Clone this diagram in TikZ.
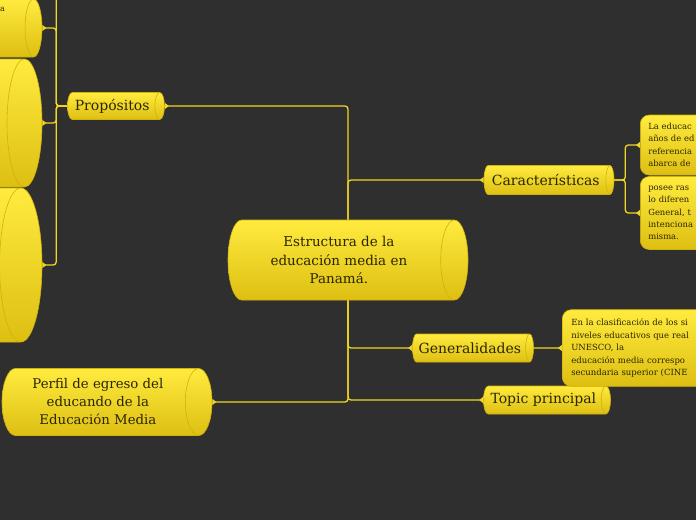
\documentclass[tikz,border=0pt]{standalone}
\usepackage{fontspec}
\setmainfont{DejaVu Serif}
\usetikzlibrary{shapes.geometric,arrows.meta}

\definecolor{bgdark}{HTML}{2F2F2F}
\definecolor{mapline}{HTML}{F2D623}
\definecolor{nodetop}{HTML}{FFEB3E}
\definecolor{nodebot}{HTML}{DDBF12}
\definecolor{nodeedge}{HTML}{D2B10A}
\definecolor{nodetext}{HTML}{2B2500}

\tikzset{
  topic/.style={cylinder, shape aspect=0.53, draw=nodeedge, line width=0.6pt,
    top color=nodetop, bottom color=nodebot, text=nodetext, align=center,
    inner sep=2pt, anchor=shape center},
  subtopic/.style={topic, font=\fontsize{14}{16}\selectfont},
  note/.style={rectangle, rounded corners=9pt, draw=nodeedge, line width=0.6pt,
    top color=nodetop, bottom color=nodebot, text=nodetext, align=left,
    anchor=west, inner sep=8pt, font=\fontsize{8.4}{12.3}\selectfont},
  link/.style={draw=mapline, line width=1.3pt, rounded corners=3pt,
    -{Triangle[reversed,length=4pt,width=6pt]}},
}

\begin{document}
\begin{tikzpicture}[x=1pt,y=-1pt]
\useasboundingbox (0,0) rectangle (696,520);
\fill[bgdark] (0,0) rectangle (696,520);
\clip (0,0) rectangle (696,520);
% main topic
\node[topic, minimum height=240pt, minimum width=80pt,
  font=\fontsize{13.5}{18.5}\selectfont] (central) at (348,260)
  {Estructura de la\\educación media en\\Panamá.};
% branches
\node[subtopic, minimum height=97pt, minimum width=27pt] (prop) at (116,106) {Propósitos};
\node[subtopic, minimum height=130pt, minimum width=29pt] (car) at (549,180) {Características};
\node[subtopic, minimum height=121pt, minimum width=28pt] (gen) at (473,348) {Generalidades};
\node[subtopic, minimum height=127pt, minimum width=28pt] (topicp) at (547,400) {Topic principal};
\node[topic, minimum height=210pt, minimum width=67pt,
  font=\fontsize{13.3}{18}\selectfont] (perfil) at (107,402)
  {Perfil de egreso del\\educando de la\\Educación Media};
% children of Propositos (cut at the left edge)
\node[topic, minimum height=160pt, minimum width=58pt,
  text height=14pt, text depth=14pt] (left1) at (-38,28) {};
\node[topic, minimum height=160pt, minimum width=128pt,
  text height=31pt, text depth=31pt] (left2) at (-38,123) {};
\node[topic, minimum height=160pt, minimum width=154pt,
  text height=38pt, text depth=38pt] (left3) at (-38,265) {};
\node[text=nodetext, anchor=west, inner sep=0pt,
  font=\fontsize{8}{10}\selectfont] (leftatxt) at (0,9) {a};
\coordinate (offtop) at (57,-5);
\coordinate (trunktop) at (central.shape center |- central.north);
\coordinate (trunkbot) at (central.shape center |- central.south);
% notes (cut at the right edge)
\node[note, minimum height=60pt, text width=140pt] (note1) at (640,145)
  {La educac\\años de ed\\referencia\\abarca de};
\node[note, minimum height=73pt, text width=140pt] (note2) at (640,213)
  {posee ras\\lo diferen\\General, t\\intenciona\\misma.};
\node[note, minimum height=75pt, text width=150pt, inner sep=9pt,
  font=\fontsize{8.5}{12.5}\selectfont] (note3) at (562,348)
  {En la clasificación de los si\\niveles educativos que real\\UNESCO, la\\educación media correspo\\secundaria superior (CINE};
% connectors
\draw[link] (trunktop) |- (prop.east);
\draw[link] (trunktop) |- (car.west);
\draw[link] (trunkbot) |- (gen.west);
\draw[link] (trunkbot) |- (topicp.west);
\draw[link] (trunkbot) |- (perfil.east);
\draw[link, -] (prop.west) -- ++(-11,0) |- (offtop);
\draw[link] (prop.west) -- ++(-11,0) |- (left1.east);
\draw[link] (prop.west) -- ++(-11,0) |- (left2.east);
\draw[link] (prop.west) -- ++(-11,0) |- (left3.east);
\draw[link] (car.east) -- ++(11,0) |- (note1.west);
\draw[link] (car.east) -- ++(11,0) |- (note2.west);
\draw[link] (gen.east) -- (note3.west);
\end{tikzpicture}
\end{document}
